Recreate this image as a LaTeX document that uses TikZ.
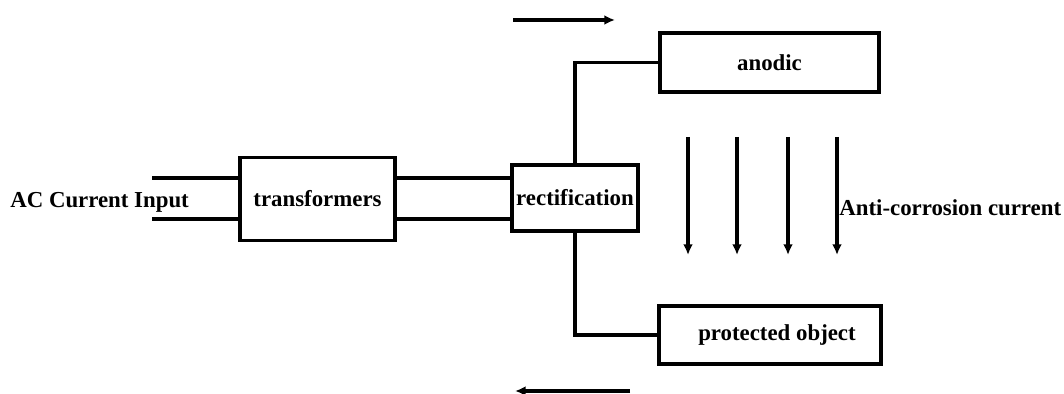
\documentclass[tikz,border=0pt]{standalone}
\usepackage{fontspec}
\setmainfont{Liberation Serif}
\usetikzlibrary{positioning, arrows.meta}

\begin{document}
\begin{tikzpicture}[
    x=0.02cm, y=-0.02cm,
    font=\fontsize{13}{15}\selectfont\bfseries,
    >={Latex[length=6pt,width=5.5pt]},
    box/.style={draw, line width=2pt, inner sep=0pt},
    wire/.style={line width=2pt},
    flow/.style={->, line width=2pt},
]

\useasboundingbox (0,0) rectangle (1064,394);

% ---- Blocks ----
\node[box, minimum width=3.1cm, minimum height=1.66cm] (trans) at (317.5,199) {transformers};
\node[box, minimum width=2.52cm, minimum height=1.32cm] (rect) at (575,198) {rectification};
\node[box, minimum width=4.38cm, minimum height=1.18cm] (anode) at (769.5,62.5) {anodic};
\node[box, minimum width=4.44cm, minimum height=1.16cm] (prot) at (770,335)
    {\hspace{0.28cm}protected object};

% ---- Labels ----
\node[anchor=west, inner sep=0pt] (acin) at (10,202) {AC Current Input};
\node[anchor=west, inner sep=0pt] (anti) at (839,208) {Anti-corrosion current};

% ---- Input wires ----
\coordinate (in1) at (152,178);
\coordinate (in2) at (152,219);
\draw[wire] (in1) -- (in1 -| trans.west);
\draw[wire] (in2) -- (in2 -| trans.west);
\draw[wire] (in1 -| trans.east) -- (in1 -| rect.west);
\draw[wire] (in2 -| trans.east) -- (in2 -| rect.west);

% ---- Output wires ----
\draw[wire] (rect.north) |- (anode.west);
\draw[wire] (rect.south) |- (prot.west);

% ---- Current direction ----
\coordinate (topa) at (513,20);
\coordinate (topb) at (615,20);
\draw[flow] (topa) -- (topb);
\coordinate (bota) at (630,391);
\coordinate (botb) at (515,391);
\draw[flow] (bota) -- (botb);

% anti-corrosion current arrows
\foreach \x in {688,737,788,837}
    \draw[flow] (\x,137) -- (\x,255);

\end{tikzpicture}
\end{document}
